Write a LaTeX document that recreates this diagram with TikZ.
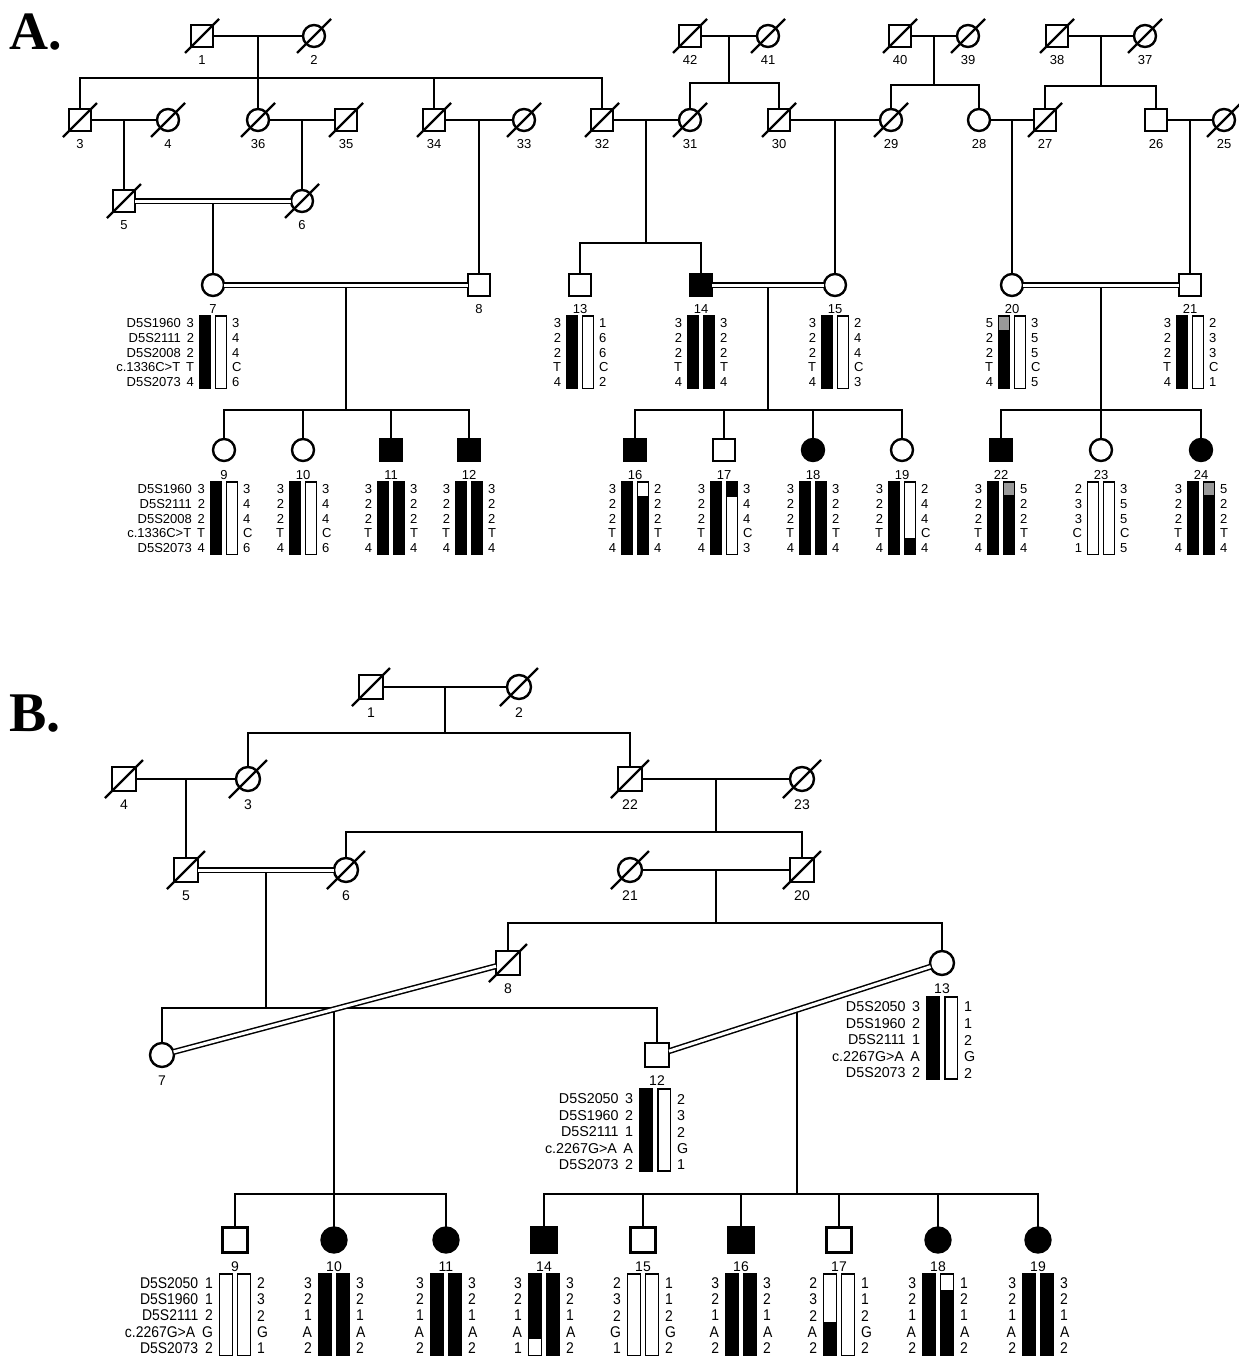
\documentclass[tikz,border=0pt]{standalone}
\usepackage{fontspec}
\setmainfont{Liberation Sans}
\newfontfamily\headfont{Liberation Serif}
\newfontfamily\narrowfont[FakeStretch=0.9]{Liberation Sans}
\usetikzlibrary{calc}

\tikzset{
  sym/.style={draw, line width=2.4pt, inner sep=0pt, outer sep=0pt, fill=white},
  msq/.style={sym, rectangle, minimum size=#1},
  fci/.style={sym, circle, minimum size=#1},
  aff/.style={fill=black},
  conn/.style={line width=1.8pt},
  dbl/.style={double, double distance=3pt, line width=1.5pt},
  slashln/.style={line width=2.2pt},
  lab/.style={inner sep=0pt, outer sep=0pt},
  num/.style={inner sep=0pt, outer sep=0pt, font=\hapfont},
  hbar/.style={draw, line width=1.4pt, inner sep=0pt, outer sep=0pt, rectangle},
  seg top/.style 2 args={path picture={\fill[#1] (path picture bounding box.north west) rectangle ([yshift=-#2pt]path picture bounding box.north east);}},
  seg bot/.style 2 args={path picture={\fill[#1] (path picture bounding box.south west) rectangle ([yshift=#2pt]path picture bounding box.south east);}},
}

% individual: id, x, y, shape style, number printed below
\newcommand\ind[5]{%
  \node[#4] (#1) at (#2,#3) {};
  \node[lab, font=\labfont] (#1-n) at (#2,{#3+\labd}) {#5};}
% deceased mark
\newcommand\dec[1]{\foreach \n in {#1}
  \draw[slashln] ([shift={(-\sl,\sl)}]\n.center) -- ([shift={(\sl,-\sl)}]\n.center);}
% gap between a marker name and its allele
\newcommand\ngap{\hspace{0.45em}}
% haplotype: id, centre x, first row y, left alleles, right alleles, left bar, right bar
\newcommand\hap[7]{%
  \pgfmathsetmacro\hh{4*\rowsep+\btop+\bbot}%
  \pgfmathsetmacro\hy{#3-\btop+\hh/2}%
  \node[hbar, minimum width=\barw pt, minimum height=\hh pt, #6] (#1-L) at ({#2-\barin-\barw/2},\hy) {};
  \node[hbar, minimum width=\barw pt, minimum height=\hh pt, #7] (#1-R) at ({#2+\barin+\barw/2},\hy) {};
  \foreach \v [count=\i] in {#4} \node[num, anchor=east] (#1-l-\i) at ({#2-\numoff},{#3+(\i-1)*\rowsep}) {\v};
  \foreach \v [count=\i] in {#5} \node[num, anchor=west] (#1-r-\i) at ({#2+\numoff},{#3+(\i-1)*\rowsep}) {\v};
}

\begin{document}
\begin{tikzpicture}[x=1pt,y=-1pt]
\useasboundingbox (0,0) rectangle (1239,1357);

% ================= Panel A =================
\node[anchor=base west, inner sep=0pt, font=\headfont\bfseries\fontsize{54}{54}\selectfont] (pa) at (9,49) {A.};

\def\labfont{\fontsize{13}{13}\selectfont}
\def\labd{24}
\def\sl{17}
% generation I
\ind{a1}{202}{36}{msq=22}{1}
\ind{a2}{314}{36}{fci=22}{2}
\ind{a42}{690}{36}{msq=22}{42}
\ind{a41}{768}{36}{fci=22}{41}
\ind{a40}{900}{36}{msq=22}{40}
\ind{a39}{968}{36}{fci=22}{39}
\ind{a38}{1057}{36}{msq=22}{38}
\ind{a37}{1145}{36}{fci=22}{37}
% generation II
\ind{a3}{80}{120}{msq=22}{3}
\ind{a4}{168}{120}{fci=22}{4}
\ind{a36}{258}{120}{fci=22}{36}
\ind{a35}{346}{120}{msq=22}{35}
\ind{a34}{434}{120}{msq=22}{34}
\ind{a33}{524}{120}{fci=22}{33}
\ind{a32}{602}{120}{msq=22}{32}
\ind{a31}{690}{120}{fci=22}{31}
\ind{a30}{779}{120}{msq=22}{30}
\ind{a29}{891}{120}{fci=22}{29}
\ind{a28}{979}{120}{fci=22}{28}
\ind{a27}{1045}{120}{msq=22}{27}
\ind{a26}{1156}{120}{msq=22}{26}
\ind{a25}{1224}{120}{fci=22}{25}
% generation III
\ind{a5}{124}{201}{msq=22}{5}
\ind{a6}{302}{201}{fci=22}{6}
\ind{a7}{213}{285}{fci=22}{7}
\ind{a8}{479}{285}{msq=22}{8}
\ind{a13}{580}{285}{msq=22}{13}
\ind{a14}{701}{285}{msq=22,aff}{14}
\ind{a15}{835}{285}{fci=22}{15}
\ind{a20}{1012}{285}{fci=22}{20}
\ind{a21}{1190}{285}{msq=22}{21}
% generation IV
\def\labd{25}
\ind{a9}{224}{450}{fci=22}{9}
\ind{a10}{303}{450}{fci=22}{10}
\ind{a11}{391}{450}{msq=22,aff}{11}
\ind{a12}{469}{450}{msq=22,aff}{12}
\ind{a16}{635}{450}{msq=22,aff}{16}
\ind{a17}{724}{450}{msq=22}{17}
\ind{a18}{813}{450}{fci=22,aff}{18}
\ind{a19}{902}{450}{fci=22}{19}
\ind{a22}{1001}{450}{msq=22,aff}{22}
\ind{a23}{1101}{450}{fci=22}{23}
\ind{a24}{1201}{450}{fci=22,aff}{24}

\dec{a1,a2,a42,a41,a40,a39,a38,a37,a3,a4,a36,a35,a34,a33,a32,a31,a30,a29,a27,a25,a5,a6}

\begin{scope}[conn]
  % top founders and their children
  \draw (a1) -- (a2);
  \coordinate (ma1) at ($(a1)!.5!(a2)$);
  \coordinate (sa1) at (258,78);
  \draw (ma1) -- (sa1);
  \draw (a3) |- (sa1) -| (a32);
  \draw (sa1) -- (a36);
  \draw (a34) -- (a34 |- sa1);
  \draw (a42) -- (a41);
  \coordinate (ma42) at ($(a42)!.5!(a41)$);
  \coordinate (sa42) at (729,83);
  \draw (ma42) -- (sa42);
  \draw (a31) |- (sa42) -| (a30);
  \draw (a40) -- (a39);
  \coordinate (ma40) at ($(a40)!.5!(a39)$);
  \coordinate (sa40) at (934,85);
  \draw (ma40) -- (sa40);
  \draw (a29) |- (sa40) -| (a28);
  \draw (a38) -- (a37);
  \coordinate (ma38) at ($(a38)!.5!(a37)$);
  \coordinate (sa38) at (1101,86);
  \draw (ma38) -- (sa38);
  \draw (a27) |- (sa38) -| (a26);
  % second generation couples
  \draw (a3) -- (a4);
  \coordinate (ma3) at ($(a3)!.5!(a4)$);
  \draw (ma3) -- (a5);
  \draw (a36) -- (a35);
  \coordinate (ma36) at ($(a36)!.5!(a35)$);
  \draw (ma36) -- (a6);
  \draw (a34) -- (a33);
  \coordinate (ma34) at ($(a34)!.5!(a33)$);
  \draw (ma34) -- (a8);
  \draw (a32) -- (a31);
  \coordinate (ma32) at ($(a32)!.5!(a31)$);
  \coordinate (sa32) at (646,243);
  \draw (ma32) -- (sa32);
  \draw (a13) |- (sa32) -| (a14);
  \draw (a30) -- (a29);
  \coordinate (ma30) at ($(a30)!.5!(a29)$);
  \draw (ma30) -- (a15);
  \draw (a28) -- (a27);
  \coordinate (ma28) at ($(a28)!.5!(a27)$);
  \draw (ma28) -- (a20);
  \draw (a26) -- (a25);
  \coordinate (ma26) at ($(a26)!.5!(a25)$);
  \draw (ma26) -- (a21);
  % consanguineous unions and their sibships
  \coordinate (ma5) at ($(a5)!.5!(a6)$);
  \draw (ma5) -- (a7);
  \draw[dbl] (a5) -- (a6);
  \coordinate (ma7) at ($(a7)!.5!(a8)$);
  \coordinate (sa7) at (346,410);
  \draw (ma7) -- (sa7);
  \draw (a9) |- (sa7) -| (a12);
  \draw (a10) -- (a10 |- sa7);
  \draw (a11) -- (a11 |- sa7);
  \draw[dbl] (a7) -- (a8);
  \coordinate (ma14) at ($(a14)!.5!(a15)$);
  \coordinate (sa14) at (768,410);
  \draw (ma14) -- (sa14);
  \draw (a16) |- (sa14) -| (a19);
  \draw (a17) -- (a17 |- sa14);
  \draw (a18) -- (a18 |- sa14);
  \draw[dbl] (a14) -- (a15);
  \coordinate (ma20) at ($(a20)!.5!(a21)$);
  \coordinate (sa20) at (1101,410);
  \draw (ma20) -- (sa20);
  \draw (a22) |- (sa20) -| (a24);
  \draw (sa20) -- (a23);
  \draw[dbl] (a20) -- (a21);
\end{scope}

% haplotypes, panel A
\def\hapfont{\fontsize{13}{13}\selectfont}
\def\rowsep{14.8}\def\barw{11}\def\barin{2.5}\def\numoff{19}\def\btop{7}\def\bbot{6}
\hap{ha7}{213}{323}{D5S1960\ngap 3,D5S2111\ngap 2,D5S2008\ngap 2,c.1336C>T\ngap T,D5S2073\ngap 4}{3,4,4,C,6}{fill=black}{fill=white}
\hap{ha13}{580}{323}{3,2,2,T,4}{1,6,6,C,2}{fill=black}{fill=white}
\hap{ha14}{701}{323}{3,2,2,T,4}{3,2,2,T,4}{fill=black}{fill=black}
\hap{ha15}{835}{323}{3,2,2,T,4}{2,4,4,C,3}{fill=black}{fill=white}
\hap{ha20}{1012}{323}{5,2,2,T,4}{3,5,5,C,5}{fill=black,seg top={black!40}{14}}{fill=white}
\hap{ha21}{1190}{323}{3,2,2,T,4}{2,3,3,C,1}{fill=black}{fill=white}
\hap{ha9}{224}{489}{D5S1960\ngap 3,D5S2111\ngap 2,D5S2008\ngap 2,c.1336C>T\ngap T,D5S2073\ngap 4}{3,4,4,C,6}{fill=black}{fill=white}
\hap{ha10}{303}{489}{3,2,2,T,4}{3,4,4,C,6}{fill=black}{fill=white}
\hap{ha11}{391}{489}{3,2,2,T,4}{3,2,2,T,4}{fill=black}{fill=black}
\hap{ha12}{469}{489}{3,2,2,T,4}{3,2,2,T,4}{fill=black}{fill=black}
\hap{ha16}{635}{489}{3,2,2,T,4}{2,2,2,T,4}{fill=black}{fill=black,seg top={white}{14}}
\hap{ha17}{724}{489}{3,2,2,T,4}{3,4,4,C,3}{fill=black}{fill=white,seg top={black}{15}}
\hap{ha18}{813}{489}{3,2,2,T,4}{3,2,2,T,4}{fill=black}{fill=black}
\hap{ha19}{902}{489}{3,2,2,T,4}{2,4,4,C,4}{fill=black}{fill=white,seg bot={black}{16}}
\hap{ha22}{1001}{489}{3,2,2,T,4}{5,2,2,T,4}{fill=black}{fill=black,seg top={black!40}{13}}
\hap{ha23}{1101}{489}{2,3,3,C,1}{3,5,5,C,5}{fill=white}{fill=white}
\hap{ha24}{1201}{489}{3,2,2,T,4}{5,2,2,T,4}{fill=black}{fill=black,seg top={black!40}{13}}

% ================= Panel B =================
\node[anchor=base west, inner sep=0pt, font=\headfont\bfseries\fontsize{56}{56}\selectfont] (pb) at (9,731) {B.};

\def\labfont{\fontsize{14}{14}\selectfont}
\def\labd{26}
\def\sl{19}
\ind{b1}{371}{687}{msq=24}{1}
\ind{b2}{519}{687}{fci=24}{2}
\ind{b4}{124}{779}{msq=24}{4}
\ind{b3}{248}{779}{fci=24}{3}
\ind{b22}{630}{779}{msq=24}{22}
\ind{b23}{802}{779}{fci=24}{23}
\ind{b5}{186}{870}{msq=24}{5}
\ind{b6}{346}{870}{fci=24}{6}
\ind{b21}{630}{870}{fci=24}{21}
\ind{b20}{802}{870}{msq=24}{20}
\ind{b8}{508}{963}{msq=24}{8}
\ind{b13}{942}{963}{fci=24}{13}
\ind{b7}{162}{1055}{fci=24}{7}
\ind{b12}{657}{1055}{msq=24}{12}
\def\labd{27}
\ind{b9}{235}{1240}{msq=25}{9}
\ind{b10}{334}{1240}{fci=25,aff}{10}
\ind{b11}{446}{1240}{fci=25,aff}{11}
\ind{b14}{544}{1240}{msq=25,aff}{14}
\ind{b15}{643}{1240}{msq=25}{15}
\ind{b16}{741}{1240}{msq=25,aff}{16}
\ind{b17}{839}{1240}{msq=25}{17}
\ind{b18}{938}{1240}{fci=25,aff}{18}
\ind{b19}{1038}{1240}{fci=25,aff}{19}

\dec{b1,b2,b4,b3,b22,b23,b5,b6,b21,b20,b8}

\begin{scope}[conn]
  \draw (b1) -- (b2);
  \coordinate (mb1) at ($(b1)!.5!(b2)$);
  \coordinate (sb1) at (445,733);
  \draw (mb1) -- (sb1);
  \draw (b3) |- (sb1) -| (b22);
  \draw (b4) -- (b3);
  \coordinate (mb4) at ($(b4)!.5!(b3)$);
  \draw (mb4) -- (b5);
  \draw (b22) -- (b23);
  \coordinate (mb22) at ($(b22)!.5!(b23)$);
  \coordinate (sb22) at (716,832);
  \draw (mb22) -- (sb22);
  \draw (b6) |- (sb22) -| (b20);
  \coordinate (mb5) at ($(b5)!.5!(b6)$);
  \coordinate (sb5) at (266,1008);
  \draw (mb5) -- (sb5);
  \draw (b7) |- (sb5) -| (b12);
  \draw[dbl] (b5) -- (b6);
  \draw (b21) -- (b20);
  \coordinate (mb21) at ($(b21)!.5!(b20)$);
  \coordinate (sb21) at (716,923);
  \draw (mb21) -- (sb21);
  \draw (b8) |- (sb21) -| (b13);
  % children of the two consanguineous unions
  \coordinate (mb7) at ($(b7)!0.497!(b8)$);
  \coordinate (sb7) at (334,1194);
  \draw (mb7) -- (mb7 |- sb7);
  \draw (b9) |- (sb7) -| (b11);
  \draw (sb7) -- (b10);
  \coordinate (mb12) at ($(b12)!0.491!(b13)$);
  \coordinate (sb12) at (797,1194);
  \draw (mb12) -- (mb12 |- sb12);
  \draw (b14) |- (sb12) -| (b19);
  \foreach \k in {b15,b16,b17,b18} \draw (\k) -- (\k |- sb12);
  \draw[dbl] (b7) -- (b8);
  \draw[dbl] (b12) -- (b13);
\end{scope}

% haplotypes, panel B
\def\hapfont{\fontsize{14.3}{14.3}\selectfont}
\def\rowsep{16.5}\def\barw{12.5}\def\barin{3}\def\numoff{22}\def\btop{10}\def\bbot{6}
\hap{hb13}{942}{1007}{D5S2050\ngap 3,D5S1960\ngap 2,D5S2111\ngap 1,c.2267G>A\ngap A,D5S2073\ngap 2}{1,1,2,G,2}{fill=black}{fill=white}
\hap{hb12}{655}{1099}{D5S2050\ngap 3,D5S1960\ngap 2,D5S2111\ngap 1,c.2267G>A\ngap A,D5S2073\ngap 2}{2,3,2,G,1}{fill=black}{fill=white}

\def\hapfont{\narrowfont\fontsize{15.5}{15.5}\selectfont}
\def\rowsep{16.3}\def\barw{13}\def\barin{2.5}\def\numoff{22}\def\btop{9}\def\bbot{7.5}
\hap{hb9}{235}{1283}{D5S2050\ngap 1,D5S1960\ngap 1,D5S2111\ngap 2,c.2267G>A\ngap G,D5S2073\ngap 2}{2,3,2,G,1}{fill=white}{fill=white}
\hap{hb10}{334}{1283}{3,2,1,A,2}{3,2,1,A,2}{fill=black}{fill=black}
\hap{hb11}{446}{1283}{3,2,1,A,2}{3,2,1,A,2}{fill=black}{fill=black}
\hap{hb14}{544}{1283}{3,2,1,A,1}{3,2,1,A,2}{fill=black,seg bot={white}{17}}{fill=black}
\hap{hb15}{643}{1283}{2,3,2,G,1}{1,1,2,G,2}{fill=white}{fill=white}
\hap{hb16}{741}{1283}{3,2,1,A,2}{3,2,1,A,2}{fill=black}{fill=black}
\hap{hb17}{839}{1283}{2,3,2,A,2}{1,1,2,G,2}{fill=white,seg bot={black}{34}}{fill=white}
\hap{hb18}{938}{1283}{3,2,1,A,2}{1,2,1,A,2}{fill=black}{fill=black,seg top={white}{16}}
\hap{hb19}{1038}{1283}{3,2,1,A,2}{3,2,1,A,2}{fill=black}{fill=black}
\end{tikzpicture}
\end{document}
